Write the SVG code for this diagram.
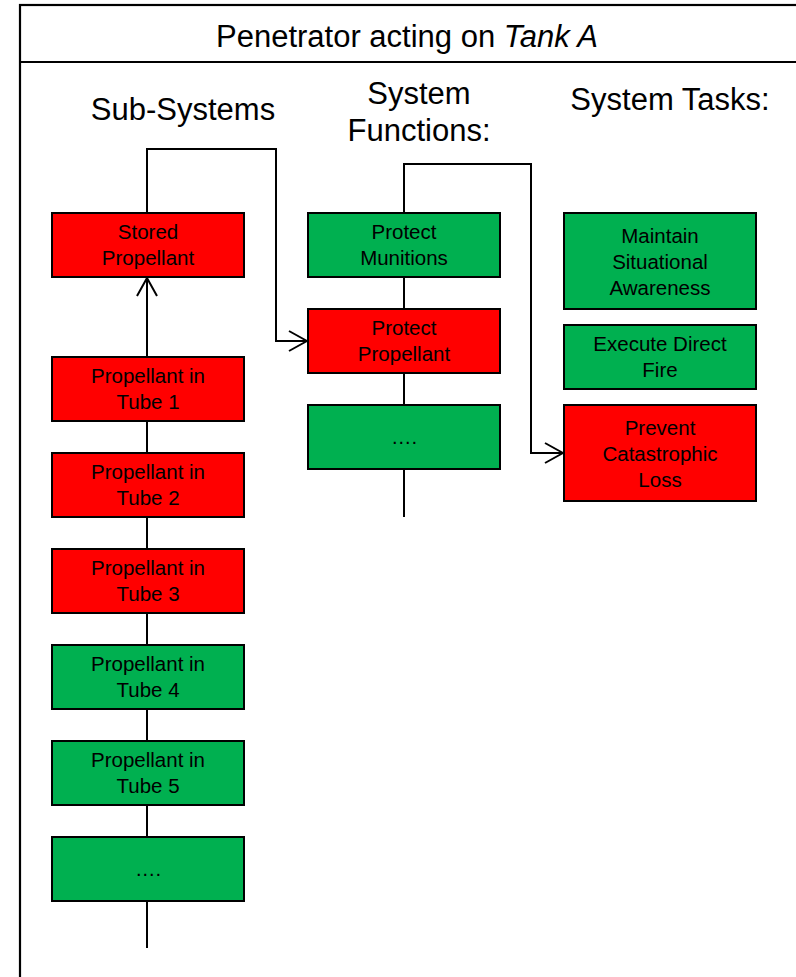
<svg xmlns="http://www.w3.org/2000/svg" width="796" height="977" viewBox="0 0 796 977">
  <style>
    .frame { fill: none; stroke: #000; stroke-width: 2.2; }
    .box { stroke: #000; stroke-width: 2; }
    .red { fill: #FF0000; }
    .green { fill: #00B050; }
    .lbl { font-family: "Liberation Sans", Arial, sans-serif; font-size: 20.5px; fill: #000; text-anchor: middle; }
    .head { font-family: "Liberation Sans", Arial, sans-serif; font-size: 31px; fill: #000; text-anchor: middle; }
    .wire { fill: none; stroke: #000; stroke-width: 2; }
  </style>
  <defs>
    <marker id="open" viewBox="0 0 20 22" refX="19" refY="11" markerWidth="20" markerHeight="22" markerUnits="userSpaceOnUse" orient="auto">
      <path d="M1,1 L19,11 L1,21" fill="none" stroke="#000" stroke-width="2"/>
    </marker>
  </defs>

  <rect width="796" height="977" fill="#fff"/>

  <!-- outer frame and title bar -->
  <rect class="frame" x="20" y="5" width="800" height="1000"/>
  <line class="frame" x1="20" y1="62" x2="796" y2="62"/>
  <text class="head" x="407" y="47">Penetrator acting on <tspan font-style="italic">Tank A</tspan></text>

  <!-- column headings -->
  <text class="head" x="183" y="120">Sub-Systems</text>
  <text class="head" x="419" y="104">System</text>
  <text class="head" x="419" y="141">Functions:</text>
  <text class="head" x="670" y="110">System Tasks:</text>

  <!-- connectors -->
  <g id="connectors">
    <path class="wire" d="M147,213 V149 H276 V341 H307" marker-end="url(#open)"/>
    <path class="wire" d="M404,213 V164 H531 V453 H563" marker-end="url(#open)"/>
    <line class="wire" x1="147" y1="357" x2="147" y2="278" marker-end="url(#open)"/>
    <line class="wire" x1="147" y1="421" x2="147" y2="453"/>
    <line class="wire" x1="147" y1="517" x2="147" y2="549"/>
    <line class="wire" x1="147" y1="613" x2="147" y2="645"/>
    <line class="wire" x1="147" y1="709" x2="147" y2="741"/>
    <line class="wire" x1="147" y1="805" x2="147" y2="837"/>
    <line class="wire" x1="147" y1="901" x2="147" y2="948"/>
    <line class="wire" x1="404" y1="277" x2="404" y2="309"/>
    <line class="wire" x1="404" y1="373" x2="404" y2="405"/>
    <line class="wire" x1="404" y1="469" x2="404" y2="517"/>
  </g>

  <!-- sub-systems -->
  <g id="stored-propellant">
    <rect class="box red" x="52" y="213" width="192" height="64"/>
    <text class="lbl" x="148" y="239">Stored</text>
    <text class="lbl" x="148" y="265">Propellant</text>
  </g>
  <g id="tube-1">
    <rect class="box red" x="52" y="357" width="192" height="64"/>
    <text class="lbl" x="148" y="383">Propellant in</text>
    <text class="lbl" x="148" y="409">Tube 1</text>
  </g>
  <g id="tube-2">
    <rect class="box red" x="52" y="453" width="192" height="64"/>
    <text class="lbl" x="148" y="479">Propellant in</text>
    <text class="lbl" x="148" y="505">Tube 2</text>
  </g>
  <g id="tube-3">
    <rect class="box red" x="52" y="549" width="192" height="64"/>
    <text class="lbl" x="148" y="575">Propellant in</text>
    <text class="lbl" x="148" y="601">Tube 3</text>
  </g>
  <g id="tube-4">
    <rect class="box green" x="52" y="645" width="192" height="64"/>
    <text class="lbl" x="148" y="671">Propellant in</text>
    <text class="lbl" x="148" y="697">Tube 4</text>
  </g>
  <g id="tube-5">
    <rect class="box green" x="52" y="741" width="192" height="64"/>
    <text class="lbl" x="148" y="767">Propellant in</text>
    <text class="lbl" x="148" y="793">Tube 5</text>
  </g>
  <g id="sub-more">
    <rect class="box green" x="52" y="837" width="192" height="64"/>
    <text class="lbl" x="148" y="876">….</text>
  </g>

  <!-- system functions -->
  <g id="protect-munitions">
    <rect class="box green" x="308" y="213" width="192" height="64"/>
    <text class="lbl" x="404" y="239">Protect</text>
    <text class="lbl" x="404" y="265">Munitions</text>
  </g>
  <g id="protect-propellant">
    <rect class="box red" x="308" y="309" width="192" height="64"/>
    <text class="lbl" x="404" y="335">Protect</text>
    <text class="lbl" x="404" y="361">Propellant</text>
  </g>
  <g id="func-more">
    <rect class="box green" x="308" y="405" width="192" height="64"/>
    <text class="lbl" x="404" y="444">….</text>
  </g>

  <!-- system tasks -->
  <g id="situational-awareness">
    <rect class="box green" x="564" y="213" width="192" height="96"/>
    <text class="lbl" x="660" y="243">Maintain</text>
    <text class="lbl" x="660" y="269">Situational</text>
    <text class="lbl" x="660" y="295">Awareness</text>
  </g>
  <g id="direct-fire">
    <rect class="box green" x="564" y="325" width="192" height="64"/>
    <text class="lbl" x="660" y="351">Execute Direct</text>
    <text class="lbl" x="660" y="377">Fire</text>
  </g>
  <g id="catastrophic-loss">
    <rect class="box red" x="564" y="405" width="192" height="96"/>
    <text class="lbl" x="660" y="435">Prevent</text>
    <text class="lbl" x="660" y="461">Catastrophic</text>
    <text class="lbl" x="660" y="487">Loss</text>
  </g>
</svg>
